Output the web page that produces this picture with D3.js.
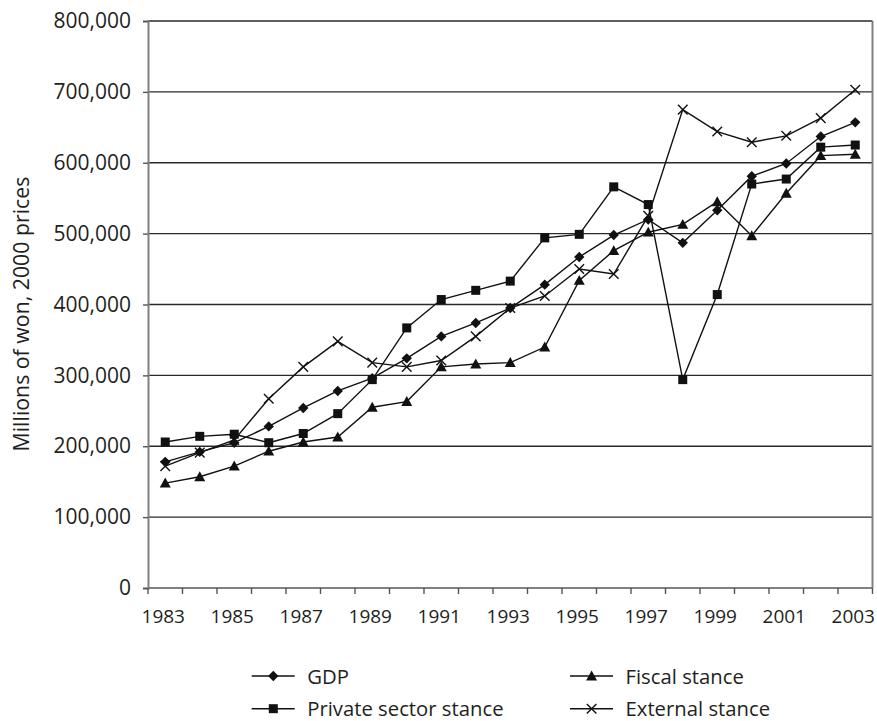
<!DOCTYPE html>
<html>
<head>
<meta charset="utf-8">
<script src="https://cdn.jsdelivr.net/npm/d3@7"></script>
<style>
  html, body { margin: 0; padding: 0; background: #fff; }
  svg text { font-family: "Open Sans", "Noto Sans", sans-serif; fill: #231f20; }
</style>
</head>
<body>
<svg id="chart" width="877" height="721"></svg>
<script>
const years = [1983,1984,1985,1986,1987,1988,1989,1990,1991,1992,1993,1994,1995,1996,1997,1998,1999,2000,2001,2002,2003];
const gdp      = [178000,192000,205000,228000,254000,278000,296000,324000,355000,374000,395000,428000,467000,498000,520000,487000,533000,581000,599000,637000,657000];
const privateS = [206000,214000,217000,205000,218000,246000,294000,367000,407000,420000,433000,494000,499000,566000,541000,294000,414000,570000,577000,622000,625000];
const fiscal   = [148000,157000,172000,193000,206000,213000,255000,263000,312000,316000,318000,340000,434000,476000,502000,513000,545000,497000,557000,610000,612000];
const external = [172000,191000,209000,267000,312000,348000,318000,312000,321000,355000,395000,412000,450000,443000,525000,675000,644000,629000,638000,663000,703000];
const yTicks = [0,100000,200000,300000,400000,500000,600000,700000,800000];
const xLabelYears = [1983,1985,1987,1989,1991,1993,1995,1997,1999,2001,2003];
const seriesNames = ["GDP","Private sector stance","Fiscal stance","External stance"];

const series = [
  {name: seriesNames[0], values: gdp, marker: "diamond"},
  {name: seriesNames[1], values: privateS, marker: "square"},
  {name: seriesNames[2], values: fiscal, marker: "triangle"},
  {name: seriesNames[3], values: external, marker: "cross"}
];

const svg = d3.select("#chart");
const plotL = 148, plotR = 872.5, plotT = 21, plotB = 588;

const x = d3.scaleBand().domain(years).range([plotL, plotR]).padding(0);
const y = d3.scaleLinear().domain([0, 800000]).range([plotB, plotT]);

// gridlines
svg.append("g").selectAll("line").data(yTicks.filter(d => d > 0)).join("line")
  .attr("x1", plotL).attr("x2", plotR)
  .attr("y1", d => y(d)).attr("y2", d => y(d))
  .attr("stroke", "#2a2a2a").attr("stroke-width", 1.4);

// right border
svg.append("line").attr("x1", plotR).attr("x2", plotR).attr("y1", plotT).attr("y2", plotB)
  .attr("stroke", "#808080").attr("stroke-width", 2);

// y axis
const yAxis = d3.axisLeft(y).tickValues(yTicks).tickSize(5).tickPadding(12)
  .tickFormat(d3.format(","));
const gy = svg.append("g").attr("transform", `translate(${plotL},0)`).call(yAxis);
gy.select(".domain").attr("stroke", "#808080").attr("stroke-width", 2);
gy.selectAll(".tick line").attr("stroke", "#555").attr("stroke-width", 1.4);
gy.selectAll(".tick text").attr("font-size", 21).attr("font-family", "Open Sans").attr("fill", "#231f20");

// x axis: ticks at band boundaries
const gx = svg.append("g");
gx.append("line").attr("x1", plotL).attr("x2", plotR).attr("y1", plotB).attr("y2", plotB)
  .attr("stroke", "#808080").attr("stroke-width", 2);
const boundaries = years.map(d => x(d)).concat([x(years[years.length-1]) + x.bandwidth()]);
gx.selectAll("line.tk").data(boundaries).join("line").attr("class", "tk")
  .attr("x1", d => d).attr("x2", d => d).attr("y1", plotB).attr("y2", plotB + 6)
  .attr("stroke", "#555").attr("stroke-width", 1.4);
gx.selectAll("text").data(xLabelYears).join("text")
  .attr("x", d => x(d) + x.bandwidth()/2 - 2).attr("y", 623)
  .attr("text-anchor", "middle").attr("font-size", 19)
  .text(d => d);

// y title
svg.append("text")
  .attr("transform", "translate(29,314) rotate(-90)")
  .attr("text-anchor", "middle").attr("font-size", 21.3)
  .text("Millions of won, 2000 prices");

// markers
function drawMarker(g, type, cx, cy) {
  if (type === "diamond") {
    const r = 5.2;
    g.append("path").attr("d", `M${cx},${cy-r}L${cx+r},${cy}L${cx},${cy+r}L${cx-r},${cy}Z`).attr("fill", "#111");
  } else if (type === "square") {
    const s = 9;
    g.append("rect").attr("x", cx - s/2).attr("y", cy - s/2).attr("width", s).attr("height", s).attr("fill", "#111");
  } else if (type === "triangle") {
    const s = 5.5;
    g.append("path").attr("d", `M${cx},${cy-s}L${cx+s},${cy+s*0.8}L${cx-s},${cy+s*0.8}Z`).attr("fill", "#111");
  } else {
    const s = 4.8;
    g.append("path").attr("d", `M${cx-s},${cy-s}L${cx+s},${cy+s}M${cx-s},${cy+s}L${cx+s},${cy-s}`)
      .attr("stroke", "#111").attr("stroke-width", 1.4).attr("fill", "none");
  }
}

const line = d3.line().x((d, i) => x(years[i]) + x.bandwidth()/2).y(d => y(d));
series.forEach(s => {
  const g = svg.append("g");
  g.append("path").datum(s.values).attr("d", line)
    .attr("fill", "none").attr("stroke", "#111").attr("stroke-width", 1.4);
  s.values.forEach((v, i) => drawMarker(g, s.marker, x(years[i]) + x.bandwidth()/2, y(v)));
});

// legend
const legendPos = [
  {lx: 251.7, ly: 676},
  {lx: 251.7, ly: 708.7},
  {lx: 570, ly: 676},
  {lx: 570, ly: 708.7}
];
series.forEach((s, i) => {
  const p = legendPos[i];
  const g = svg.append("g");
  g.append("line").attr("x1", p.lx).attr("x2", p.lx + 43).attr("y1", p.ly).attr("y2", p.ly)
    .attr("stroke", "#111").attr("stroke-width", 1.6);
  drawMarker(g, s.marker, p.lx + 21.6, p.ly);
  g.append("text").attr("x", p.lx + 55.5).attr("y", p.ly + 7.5)
    .attr("font-size", 20.3).text(s.name);
});
</script>
</body>
</html>
